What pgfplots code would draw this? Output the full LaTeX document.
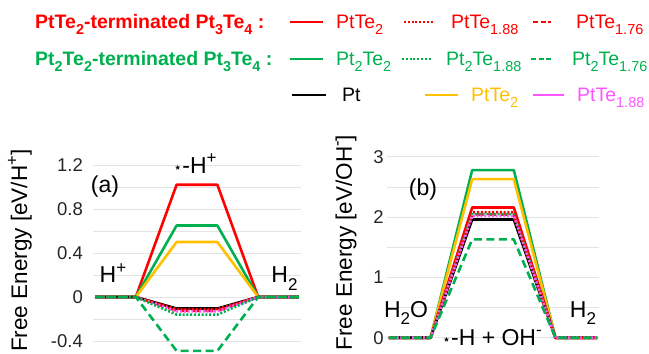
\documentclass[border=0pt]{standalone}
\usepackage{pgfplots}
\pgfplotsset{compat=1.18}
\usepackage{pgfplotstable}
\usepackage{fontspec}
\setmainfont{Liberation Sans}
\newfontfamily\dejavu{DejaVu Sans}
\usepackage{graphicx}

\definecolor{cred}{HTML}{FF0000}
\definecolor{cgreen}{HTML}{00B050}
\definecolor{cyel}{HTML}{FFC000}
\definecolor{cpink}{HTML}{FF55FF}
\definecolor{cgrid}{HTML}{E3E3E3}

\newcommand\subs[1]{\raisebox{-0.33em}{\scalebox{0.74}{#1}}}
\newcommand\supr[1]{\raisebox{0.42em}{\scalebox{0.74}{#1}}}
\newcommand\str{{\dejavu\raisebox{0.06em}{\scalebox{0.62}{⋆}}}}

\tikzset{
  sdot/.style={dash pattern=on 2pt off 1.8pt},
  sdash/.style={dash pattern=on 8pt off 4.5pt},
}

% x: 0..5 steps ; columns: red solid, red dotted, red dashed, green solid, green dotted, green dashed, black, yellow, pink
\pgfplotstableread{
x rs rd rh gs gd gh k yl pk
0 0 0 0 0 0 0 0 0 0
1 0 0 0 0 0 0 0 0 0
2 1.02 -0.11 -0.125 0.65 -0.16 -0.49 -0.105 0.50 -0.13
3 1.02 -0.11 -0.125 0.65 -0.16 -0.49 -0.105 0.50 -0.13
4 0 0 0 0 0 0 0 0 0
5 0 0 0 0 0 0 0 0 0
}\tabA
\pgfplotstableread{
x rs rd rh gs gd gh k yl pk
0 0 0 0 0 0 0 0 0 0
1 0 0 0 0 0 0 0 0 0
2 2.16 2.08 2.04 2.78 2.05 1.63 1.96 2.63 2.02
3 2.16 2.08 2.04 2.78 2.05 1.63 1.96 2.63 2.02
4 0 0 0 0 0 0 0 0 0
5 0 0 0 0 0 0 0 0 0
}\tabB

\pgfplotsset{
  fe/.style={
    scale only axis, axis line style={draw=none},
    major tick length=0pt, minor tick length=0pt,
    xmin=-0.05, xmax=5.05, xtick=\empty,
    ymajorgrids, yminorgrids,
    major grid style={cgrid, line width=0.9pt},
    minor grid style={cgrid, line width=0.9pt},
    ylabel style={font=\fontsize{22.5}{26}\selectfont, anchor=center},
    yticklabel style={font=\fontsize{18.5}{21}\selectfont, text=black!85, inner sep=0pt, anchor=east},
    every axis plot/.append style={line width=2.6pt, line join=round},
  },
}

\begin{document}
\begin{tikzpicture}
\useasboundingbox (0pt,0pt) rectangle (649pt,354pt);

% ---------- panel (a)
\begin{axis}[fe, at={(93pt,-0.2pt)}, anchor=south west,
  width=208pt, height=189.2pt,
  ymin=-0.52, ymax=1.2,
  ytick={-0.4,0,0.4,0.8,1.2}, yticklabels={-0.4,0,0.4,0.8,1.2},
  minor ytick={-0.2,0.2,0.6,1.0},
  yticklabel style={xshift=-10pt},
  ylabel={Free Energy [eV/H\supr{+}]},
  ylabel style={at={(axis description cs:-0.351,0.547)}},
]
\addplot[cred] table[x=x,y=rs] {\tabA};
\addplot[cgreen] table[x=x,y=gs] {\tabA};
\addplot[cyel] table[x=x,y=yl] {\tabA};
\addplot[black] table[x=x,y=k] {\tabA};
\addplot[cred, sdash] table[x=x,y=rh] {\tabA};
\addplot[cred, sdot] table[x=x,y=rd] {\tabA};
\addplot[cpink, sdot] table[x=x,y=pk] {\tabA};
\addplot[cgreen, sdot] table[x=x,y=gd] {\tabA};
\addplot[cgreen, sdash] table[x=x,y=gh] {\tabA};
\end{axis}

% ---------- panel (b)
\begin{axis}[fe, at={(386.9pt,0pt)}, anchor=south west,
  width=212.2pt, height=197.2pt,
  ymin=-0.27, ymax=3,
  ytick={0,1,2,3}, yticklabels={0,1,2,3},
  minor ytick={0.5,1.5,2.5},
  yticklabel style={xshift=-3pt},
  ylabel={Free Energy [eV/OH\supr{-}]},
  ylabel style={at={(axis description cs:-0.193,0.565)}},
]
\addplot[cgreen] table[x=x,y=gs] {\tabB};
\addplot[cyel] table[x=x,y=yl] {\tabB};
\addplot[cred] table[x=x,y=rs] {\tabB};
\addplot[black] table[x=x,y=k] {\tabB};
\addplot[cred, sdot] table[x=x,y=rd] {\tabB};
\addplot[cred, sdash] table[x=x,y=rh] {\tabB};
\addplot[cgreen, sdot] table[x=x,y=gd] {\tabB};
\addplot[cpink, sdot] table[x=x,y=pk] {\tabB};
\addplot[cgreen, sdash] table[x=x,y=gh] {\tabB};
\end{axis}

% ---------- annotations
\begin{scope}[every node/.style={font=\fontsize{23}{27}\selectfont, inner sep=0pt}]
\node[anchor=center] at (105pt,167pt) {(a)};
\node[anchor=base] at (195pt,180.5pt) {\str-H\supr{+}};
\node[anchor=base] at (113pt,71pt) {H\supr{+}};
\node[anchor=base] at (284.5pt,71pt) {H\subs{2}};
\node[anchor=center] at (423pt,164pt) {(b)};
\node[anchor=base] at (406pt,37pt) {H\subs{2}O};
\node[anchor=base] at (583pt,37pt) {H\subs{2}};
\node[anchor=base] at (492pt,8.5pt) {\str-H + OH\supr{-}};
\end{scope}

% ---------- legend
\begin{scope}[every node/.style={font=\fontsize{19.5}{22}\selectfont, inner sep=0pt, anchor=base west}]
% row 1
\node[text=cred, font=\fontsize{19.5}{22}\selectfont\bfseries] at (35pt,325.5pt) {PtTe\subs{2}-terminated Pt\subs{3}Te\subs{4} :};
\draw[cred, line width=2.8pt] (290pt,332pt) -- (323pt,332pt);
\node[text=cred] at (336pt,325.5pt) {PtTe\subs{2}};
\draw[cred, line width=2.4pt, sdot] (404pt,332pt) -- (434pt,332pt);
\node[text=cred] at (451pt,325.5pt) {PtTe\subs{1.88}};
\draw[cred, line width=2.8pt, dash pattern=on 5pt off 2.5pt] (533pt,332pt) -- (551pt,332pt);
\node[text=cred] at (576pt,325.5pt) {PtTe\subs{1.76}};
% row 2
\node[text=cgreen, font=\fontsize{19.5}{22}\selectfont\bfseries] at (35pt,288.5pt) {Pt\subs{2}Te\subs{2}-terminated Pt\subs{3}Te\subs{4} :};
\draw[cgreen, line width=2.8pt] (290pt,295pt) -- (323pt,295pt);
\node[text=cgreen] at (336pt,288.5pt) {Pt\subs{2}Te\subs{2}};
\draw[cgreen, line width=2.4pt, sdot] (402pt,295pt) -- (432pt,295pt);
\node[text=cgreen] at (446pt,288.5pt) {Pt\subs{2}Te\subs{1.88}};
\draw[cgreen, line width=2.8pt, dash pattern=on 5pt off 2.5pt] (531pt,295pt) -- (551pt,295pt);
\node[text=cgreen] at (572pt,288.5pt) {Pt\subs{2}Te\subs{1.76}};
% row 3
\draw[black, line width=2.8pt] (292pt,259pt) -- (326pt,259pt);
\node[text=black] at (342pt,252.5pt) {Pt};
\draw[cyel, line width=2.8pt] (425pt,259pt) -- (458pt,259pt);
\node[text=cyel] at (471pt,252.5pt) {PtTe\subs{2}};
\draw[cpink, line width=2.8pt] (533pt,259pt) -- (564pt,259pt);
\node[text=cpink] at (577pt,252.5pt) {PtTe\subs{1.88}};
\end{scope}
\end{tikzpicture}
\end{document}
